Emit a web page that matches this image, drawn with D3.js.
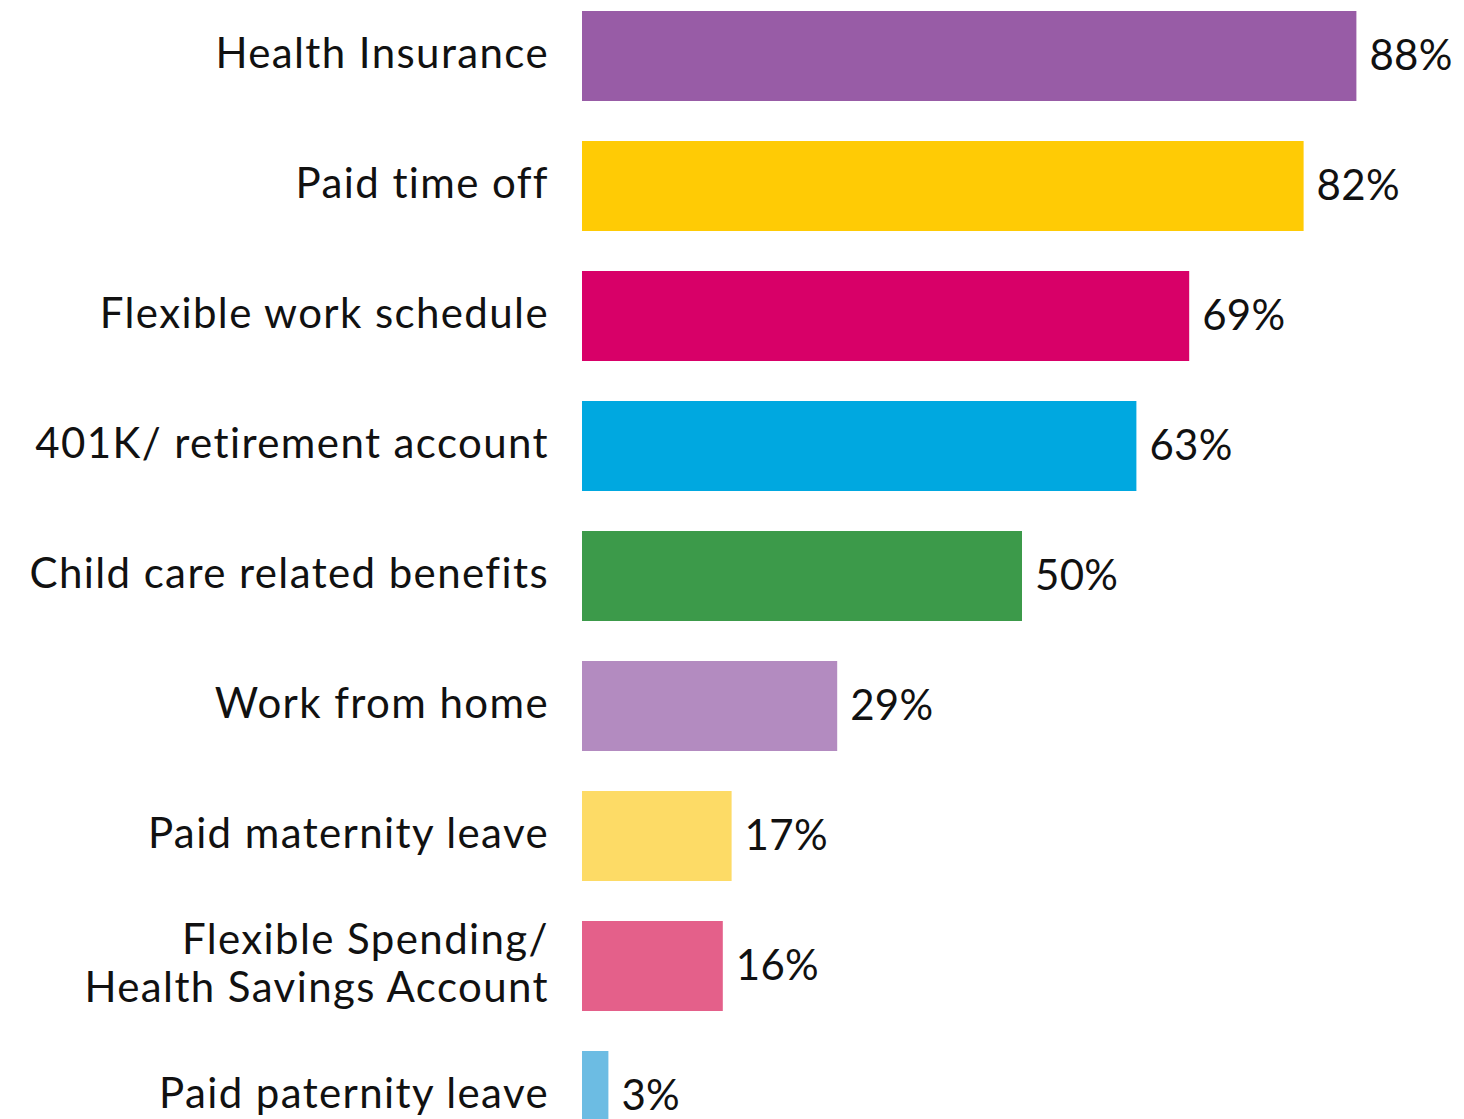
<!DOCTYPE html>
<html>
<head>
    <style>
        body { margin: 0; background: #ffffff; }
        .label text { font-family: Lato, "Open Sans", sans-serif; font-size: 42px; fill: #111111; letter-spacing: 1.4px; }
        .value { font-family: Lato, "Open Sans", sans-serif; font-size: 42px; fill: #111111; letter-spacing: 0.3px; }
    </style>
    <script src="https://d3js.org/d3.v7.min.js"></script>
</head>
<body>
<svg width="1464" height="1119"></svg>
<script>
    var categories = [
        "Health Insurance",
        "Paid time off",
        "Flexible work schedule",
        "401K/ retirement account",
        "Child care related benefits",
        "Work from home",
        "Paid maternity leave",
        "Flexible Spending/|Health Savings Account",
        "Paid paternity leave"
    ];
    var values = [88, 82, 69, 63, 50, 29, 17, 16, 3];
    var colors = ["#985CA6", "#FFCB05", "#D80068", "#00A8E0", "#3C9A4A",
                  "#B38BC0", "#FDDB66", "#E4608A", "#6CBCE3"];

    var svg = d3.select("svg"),
        width = +svg.attr("width"),
        height = +svg.attr("height");

    var data = categories.map(function (c, i) {
        return { name: c, value: values[i], color: colors[i] };
    });

    var x = d3.scaleLinear().domain([0, 100]).range([582, 1462]);

    var y = d3.scaleBand()
        .domain(categories)
        .range([-9, 1161])
        .paddingInner(40 / 130)
        .paddingOuter(20 / 130);

    svg.selectAll(".bar")
        .data(data)
        .enter().append("rect")
        .attr("class", "bar")
        .attr("x", x(0))
        .attr("y", function (d) { return y(d.name); })
        .attr("width", function (d) { return x(d.value) - x(0); })
        .attr("height", y.bandwidth())
        .attr("fill", function (d) { return d.color; });

    svg.selectAll(".value")
        .data(data)
        .enter().append("text")
        .attr("class", "value")
        .attr("x", function (d) { return x(d.value) + 13; })
        .attr("y", function (d) { return y(d.name) + y.bandwidth() / 2; })
        .attr("dy", "0.33em")
        .text(function (d) { return d.value + "%"; });

    var label = svg.selectAll(".label")
        .data(data)
        .enter().append("g")
        .attr("class", "label")
        .attr("transform", function (d) {
            return "translate(549," + (y(d.name) + y.bandwidth() / 2) + ")";
        });

    label.each(function (d) {
        var lines = d.name.split("|");
        var t = d3.select(this).append("text")
            .attr("text-anchor", "end");
        lines.forEach(function (l, i) {
            t.append("tspan")
                .attr("x", 0)
                .attr("y", (i - (lines.length - 1) / 2) * 48)
                .attr("dy", "0.29em")
                .text(l);
        });
    });
</script>
</body>
</html>
